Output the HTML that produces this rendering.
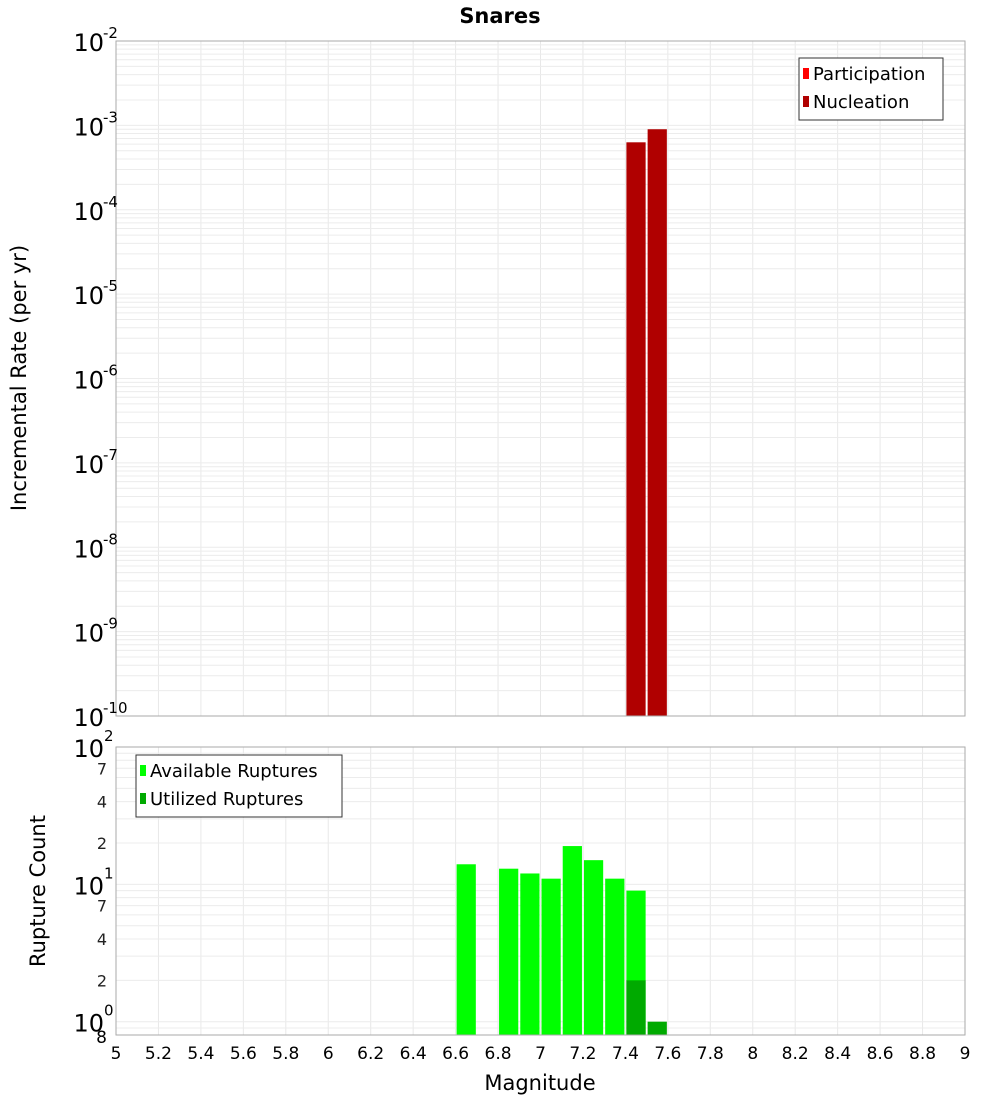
<!DOCTYPE html>
<html><head><meta charset="utf-8">
<style>
body{margin:0;background:#fff;font-family:"Liberation Sans","DejaVu Sans",sans-serif;}
svg text{font-family:"DejaVu Sans","Liberation Sans",sans-serif;}
</style></head>
<body>
<svg id="chart" width="1000" height="1100" xmlns="http://www.w3.org/2000/svg">
<text x="500" y="23" text-anchor="middle" font-size="21" font-weight="bold">Snares</text>
<g id="top"></g>
<g id="bot"></g>
<text transform="translate(26,378) rotate(-90)" text-anchor="middle" font-size="21">Incremental Rate (per yr)</text>
<text transform="translate(45,891) rotate(-90)" text-anchor="middle" font-size="21">Rupture Count</text>
<text x="540" y="1090" text-anchor="middle" font-size="21">Magnitude</text>
</svg>
<script>
const xTicks=[5,5.2,5.4,5.6,5.8,6,6.2,6.4,6.6,6.8,7,7.2,7.4,7.6,7.8,8,8.2,8.4,8.6,8.8,9];
const rateMags=[7.45,7.55];
const nucleationRates=[6.3e-4,9.0e-4];
const participationRates=[6.3e-4,9.0e-4];
const countMags=[6.65,6.85,6.95,7.05,7.15,7.25,7.35,7.45];
const availableCounts=[14,13,12,11,19,15,11,9];
const utilMags=[7.45,7.55];
const utilizedCounts=[2,1];
const topDecades=[-10,-9,-8,-7,-6,-5,-4,-3,-2];
const botMinorLabels=[[2,"2"],[4,"4"],[7,"7"],[20,"2"],[40,"4"],[70,"7"]];

const NS="http://www.w3.org/2000/svg";
const L=116,R=965;
const xS=m=>L+(m-5)/(9-5)*(R-L);
const T={top:41,bot:716,min:-10,max:-2};
const B={top:747,bot:1035,min:Math.log10(0.8),max:2};
const yT=v=>T.bot-(Math.log10(v)-T.min)/(T.max-T.min)*(T.bot-T.top);
const yB=v=>B.bot-(Math.log10(v)-B.min)/(B.max-B.min)*(B.bot-B.top);
function el(p,tag,a,txt){const e=document.createElementNS(NS,tag);for(const k in a)e.setAttribute(k,a[k]);if(txt!==undefined)e.textContent=txt;p.appendChild(e);return e;}
const gt=document.getElementById('top'),gb=document.getElementById('bot');

// frames & grids
function grid(g,P,yF,vals){
  el(g,'rect',{x:L,y:P.top,width:R-L,height:P.bot-P.top,fill:'#fff'});
  xTicks.forEach(t=>{const l=el(g,'line',{x1:xS(t),x2:xS(t),y1:P.top,y2:P.bot,stroke:'#e8e8e8','stroke-width':1});
    });
  vals.forEach(v=>{const y=yF(v);if(y>=P.top&&y<=P.bot){const l=el(g,'line',{x1:L,x2:R,y1:y,y2:y,stroke:'#ececec','stroke-width':1});
    }});
}
let tv=[];for(let d=-10;d<-2;d++)for(let k=1;k<10;k++)tv.push(k*Math.pow(10,d));
grid(gt,T,yT,tv);
let bv=[];for(let d=-1;d<2;d++)for(let k=1;k<10;k++)bv.push(k*Math.pow(10,d));
grid(gb,B,yB,bv);

// top bars
const bw=xS(5.1)-xS(5);
rateMags.forEach((m,i)=>{
  const y=yT(nucleationRates[i]);
  const r=el(gt,'rect',{x:xS(m)-bw/2+1,y:y,width:bw-2,height:T.bot-y,fill:'#b00000'});
  
});
// bottom bars
countMags.forEach((m,i)=>{
  const y=yB(availableCounts[i]);
  const r=el(gb,'rect',{x:xS(m)-bw/2+1,y:y,width:bw-2,height:B.bot-y,fill:'#00ff00'});
  
});
utilMags.forEach((m,i)=>{
  const y=yB(utilizedCounts[i]);
  const r=el(gb,'rect',{x:xS(m)-bw/2+1,y:y,width:bw-2,height:B.bot-y,fill:'#00aa00'});
  
});
// borders
el(gt,'rect',{x:L,y:T.top,width:R-L,height:T.bot-T.top,fill:'none',stroke:'#aaa'});
el(gb,'rect',{x:L,y:B.top,width:R-L,height:B.bot-B.top,fill:'none',stroke:'#aaa'});

// top y labels
topDecades.forEach(d=>{
  const y=yT(Math.pow(10,d));
  const t=el(gt,'text',{x:104,y:y+10,'text-anchor':'end','font-size':24},'10');
  
  const s=el(gt,'text',{x:103,y:y-3,'text-anchor':'start','font-size':15},String(d));
  
});
// bottom y labels
[[1,"0"],[10,"1"],[100,"2"]].forEach(([v,e])=>{
  const y=yB(v);
  const t=el(gb,'text',{x:104,y:y+10,'text-anchor':'end','font-size':24},'10');
  
  const s=el(gb,'text',{x:104,y:y-6,'text-anchor':'start','font-size':15},e);
  
});
botMinorLabels.forEach(([v,s])=>{
  const t=el(gb,'text',{x:107,y:yB(v)+6,'text-anchor':'end','font-size':16,fill:'#222'},s);
  
});
{const t=el(gb,'text',{x:107,y:1043,'text-anchor':'end','font-size':17},'8');
 }
// x labels
xTicks.forEach(t=>{
  const e=el(gb,'text',{x:xS(t),y:1059,'text-anchor':'middle','font-size':17},String(t));
  
});
// legends
function legend(g,x,y,w,items,name){
  const lg=el(g,'g',{});
  
  el(lg,'rect',{x:x,y:y,width:w,height:items.length*28+6,fill:'#fff',stroke:'#333'});
  items.forEach(([c,s],i)=>{
    el(lg,'rect',{x:x+4,y:y+10+i*28,width:6,height:11,fill:c});
    const t=el(lg,'text',{x:x+14,y:y+22+i*28,'font-size':18},s);
    
  });
}
legend(gt,799,58,144,[['#ff0000','Participation'],['#b00000','Nucleation']],'legend-top');
legend(gb,136,755,206,[['#00ff00','Available Ruptures'],['#00aa00','Utilized Ruptures']],'legend-bottom');
</script>
</body></html>
